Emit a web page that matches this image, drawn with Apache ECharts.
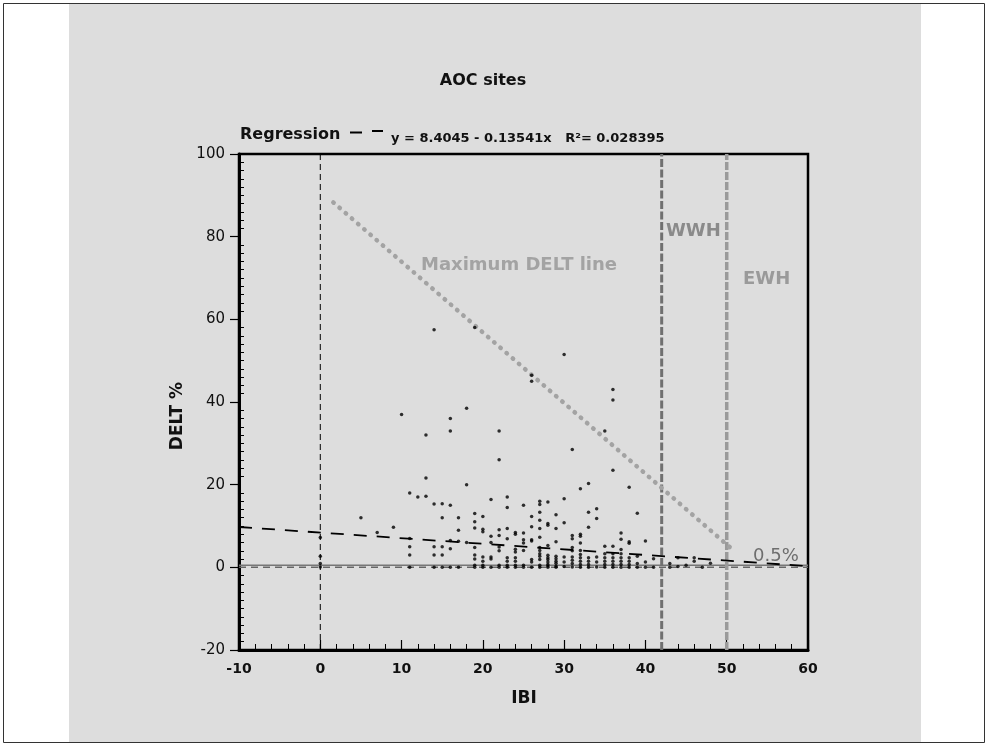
<!DOCTYPE html>
<html>
<head>
<meta charset="utf-8">
<title>AOC sites</title>
<script src="https://cdn.jsdelivr.net/npm/echarts@6/dist/echarts.min.js"></script>
<style>
  html, body { margin: 0; padding: 0; background: #fff; }
  #chart { width: 988px; height: 745px; }
</style>
</head>
<body>
<div id="chart"></div>
<script>
  // site points: [IBI, DELT %]
  var sitePoints = [
    [0,7.2],[0,2.7],[0,0.9],[0,0.1],
    [5,12],[7,8.4],[9,9.7],[10,37],
    [11,18],[11,7],[11,5],[11,3],[11,0],
    [12,17],
    [13,32],[13,21.6],[13,17.2],
    [14,57.5],[14,15.3],[14,5],[14,3],[14,0],
    [15,15.4],[15,12],[15,5],[15,3],[15,0],
    [16,36],[16,33],[16,15],[16,6.5],[16,4.5],[16,0],
    [17,12],[17,9],[17,6.3],[17,0],
    [18,38.5],[18,20],[18,6],
    [19,58],[19,13],[19,11],[19,9.5],[19,4.8],[19,3],[19,2],[19,0.5],[19,0],
    [20,12.3],[20,9.2],[20,8.6],[20,2.5],[20,1.5],[20,0.5],[20,0],
    [21,16.4],[21,7.5],[21,6],[21,2.5],[21,2],[21,0],
    [22,33],[22,26],[22,9.1],[22,7.7],[22,4.9],[22,4],[22,0.5],[22,0],
    [23,17],[23,14.5],[23,9.4],[23,6.9],[23,2.3],[23,1.5],[23,0.5],[23,0],
    [24,8.4],[24,8],[24,4.4],[24,3.7],[24,2.3],[24,1.5],[24,0.5],[24,0],
    [25,15],[25,8.3],[25,6.7],[25,5.9],[25,4.1],[25,0.5],[25,0],
    [26,46.5],[26,45],[26,12.3],[26,9.8],[26,6.7],[26,6.4],[26,1.9],[26,1.3],[26,0],
    [27,16],[27,15.2],[27,13.3],[27,11.4],[27,9.4],[27,7.3],[27,4.8],[27,4.1],[27,3.3],[27,2.7],[27,1.9],[27,0.5],[27,0],
    [28,15.8],[28,10.6],[28,10.2],[28,5.3],[28,2.9],[28,2.3],[28,1.9],[28,1.3],[28,0.7],[28,0.3],[28,0],
    [29,12.7],[29,9.4],[29,6.2],[29,2.7],[29,2.1],[29,1.5],[29,1],[29,0.3],[29,0],
    [30,51.5],[30,16.6],[30,10.8],[30,2.5],[30,1.3],[30,0.2],
    [31,28.5],[31,7.7],[31,6.9],[31,4.8],[31,4],[31,2.5],[31,1.7],[31,0.9],[31,0.1],
    [32,19],[32,8],[32,7.5],[32,5.9],[32,4.1],[32,3.1],[32,2.3],[32,1.5],[32,0.7],[32,0],
    [33,20.3],[33,13.3],[33,9.7],[33,2.3],[33,1.5],[33,0.7],[33,0],
    [34,14.2],[34,11.8],[34,2.5],[34,1.3],[34,0.1],
    [35,33],[35,5.1],[35,3.3],[35,2.3],[35,1.5],[35,0.7],[35,0],
    [36,43],[36,40.5],[36,23.5],[36,5.1],[36,3.3],[36,2.3],[36,1.5],[36,0.7],[36,0],
    [37,8.3],[37,6.8],[37,4.3],[37,3.3],[37,2.3],[37,1.5],[37,0.7],[37,0],
    [38,19.4],[38,6.2],[38,5.8],[38,2.3],[38,1.5],[38,0.7],[38,0],
    [39,13.1],[39,2.7],[39,0.9],[39,0],
    [40,6.4],[40,1.3],[40,0],
    [41,2.1],[41,0],
    [43,0.9],[43,0],
    [44,2.3],[44,0.2],
    [45,0.5],
    [46,2.3],[46,1.5],
    [47,0],
    [48,1]
  ];
  // y = 8.4045 - 0.13541x, ends at the plot edges
  var regressionLine = [[-10, 9.76], [60, 0.28]];
  var maxDeltLine = [[1.6, 88.3], [50.6, 4.5]];
  var zeroLine = [[-10, 0], [60, 0]];
  var halfPercentLine = [[-10, 0.5], [60, 0.5]];
  var ibiZeroLine = [[0, -20], [0, 100]];
  var wwhLine = [[42, -20], [42, 100]];
  var ewhLine = [[50, -20], [50, 100]];

  var font = "'DejaVu Sans', sans-serif";

  function refLine(name, data, color, width, type, extra) {
    var s = {
      name: name,
      type: 'line',
      data: data,
      symbol: 'none',
      silent: true,
      animation: false,
      lineStyle: { color: color, width: width, type: type }
    };
    if (extra) { for (var k in extra) s.lineStyle[k] = extra[k]; }
    return s;
  }

  var myChart = echarts.init(document.getElementById('chart'));
  myChart.setOption({
    backgroundColor: '#ffffff',
    animation: false,
    grid: {
      left: 239, right: 180, top: 154, bottom: 95,
      show: true,
      borderColor: '#000',
      borderWidth: 2.5,
      backgroundColor: 'transparent'
    },
    xAxis: {
      type: 'value',
      min: -10, max: 60, interval: 10,
      axisLine: { onZero: false, lineStyle: { color: '#000', width: 3 } },
      axisTick: { inside: true, length: 10, lineStyle: { color: '#000', width: 1.2 } },
      minorTick: { show: true, splitNumber: 5, length: 6, lineStyle: { color: '#000', width: 1 } },
      axisLabel: { fontFamily: font, fontWeight: 'bold', fontSize: 14, color: '#111', margin: 12 },
      splitLine: { show: false },
      minorSplitLine: { show: false }
    },
    yAxis: [{
      type: 'value',
      position: 'left',
      min: -20, max: 100, interval: 20,
      axisLine: { onZero: false, lineStyle: { color: '#000', width: 3 } },
      axisTick: { inside: false, length: 9, lineStyle: { color: '#000', width: 1.2 } },
      axisLabel: { fontFamily: font, fontSize: 15, color: '#111', margin: 14 },
      splitLine: { show: false }
    }, {
      type: 'value',
      position: 'left',
      min: -20, max: 100, interval: 20,
      axisLine: { show: false, onZero: false },
      axisTick: { show: false, inside: true },
      minorTick: { show: true, splitNumber: 10, length: 5, lineStyle: { color: '#000', width: 1 } },
      axisLabel: { show: false },
      splitLine: { show: false },
      minorSplitLine: { show: false }
    }],
    graphic: [
      { type: 'rect', z: -20, silent: true,
        shape: { x: 3.5, y: 3.5, width: 981, height: 739 },
        style: { fill: '#ffffff', stroke: '#333', lineWidth: 1 } },
      { type: 'rect', z: -10, silent: true,
        shape: { x: 69, y: 4, width: 852, height: 738 },
        style: { fill: '#dddddd' } },
      { type: 'text', x: 483, y: 81, silent: true,
        style: { text: 'AOC sites', font: 'bold 16px ' + font, fill: '#111', align: 'center', verticalAlign: 'middle' } },
      { type: 'text', x: 240, y: 135, silent: true,
        style: { text: 'Regression', font: 'bold 16px ' + font, fill: '#111', align: 'left', verticalAlign: 'middle' } },
      { type: 'line', silent: true, shape: { x1: 350, y1: 132.5, x2: 362, y2: 132.5 }, style: { stroke: '#000', lineWidth: 2 } },
      { type: 'line', silent: true, shape: { x1: 372, y1: 131, x2: 383, y2: 131 }, style: { stroke: '#000', lineWidth: 2 } },
      { type: 'text', x: 391, y: 139, silent: true,
        style: { text: 'y = 8.4045 - 0.13541x   R\u00b2= 0.028395', font: 'bold 13px ' + font, fill: '#111', align: 'left', verticalAlign: 'middle' } },
      { type: 'text', x: 178, y: 416, rotation: Math.PI / 2, silent: true,
        style: { text: 'DELT %', font: 'bold 17px ' + font, fill: '#111', align: 'center', verticalAlign: 'middle' } },
      { type: 'text', x: 524, y: 699, silent: true,
        style: { text: 'IBI', font: 'bold 17px ' + font, fill: '#111', align: 'center', verticalAlign: 'middle' } },
      { type: 'text', x: 421, y: 265, silent: true,
        style: { text: 'Maximum DELT line', font: 'bold 18px ' + font, fill: '#a3a3a3', align: 'left', verticalAlign: 'middle' } },
      { type: 'text', x: 666, y: 231, silent: true,
        style: { text: 'WWH', font: 'bold 18px ' + font, fill: '#8a8a8a', align: 'left', verticalAlign: 'middle' } },
      { type: 'text', x: 743, y: 279, silent: true,
        style: { text: 'EWH', font: 'bold 18px ' + font, fill: '#9a9a9a', align: 'left', verticalAlign: 'middle' } },
      { type: 'text', x: 753, y: 556, silent: true,
        style: { text: '0.5%', font: '18px ' + font, fill: '#6e6e6e', align: 'left', verticalAlign: 'middle' } }
    ],
    series: [
      refLine('IBI 0', ibiZeroLine, '#000', 1, [6, 4]),
      refLine('zero', zeroLine, '#666', 1.5, [7, 5]),
      refLine('0.5%', halfPercentLine, '#777', 1.5, 'solid'),
      refLine('WWH', wwhLine, '#707070', 3, [8, 2.5]),
      refLine('EWH', ewhLine, '#9a9a9a', 3.5, [8, 2]),
      refLine('Maximum DELT line', maxDeltLine, '#a3a3a3', 4.5, [0.5, 7.7], { cap: 'round' }),
      refLine('Regression', regressionLine, '#000', 1.8, [13, 10]),
      {
        name: 'AOC sites',
        type: 'scatter',
        data: sitePoints,
        symbol: 'circle',
        symbolSize: 3.5,
        itemStyle: { color: '#000' },
        z: 5
      }
    ]
  });
</script>
</body>
</html>
